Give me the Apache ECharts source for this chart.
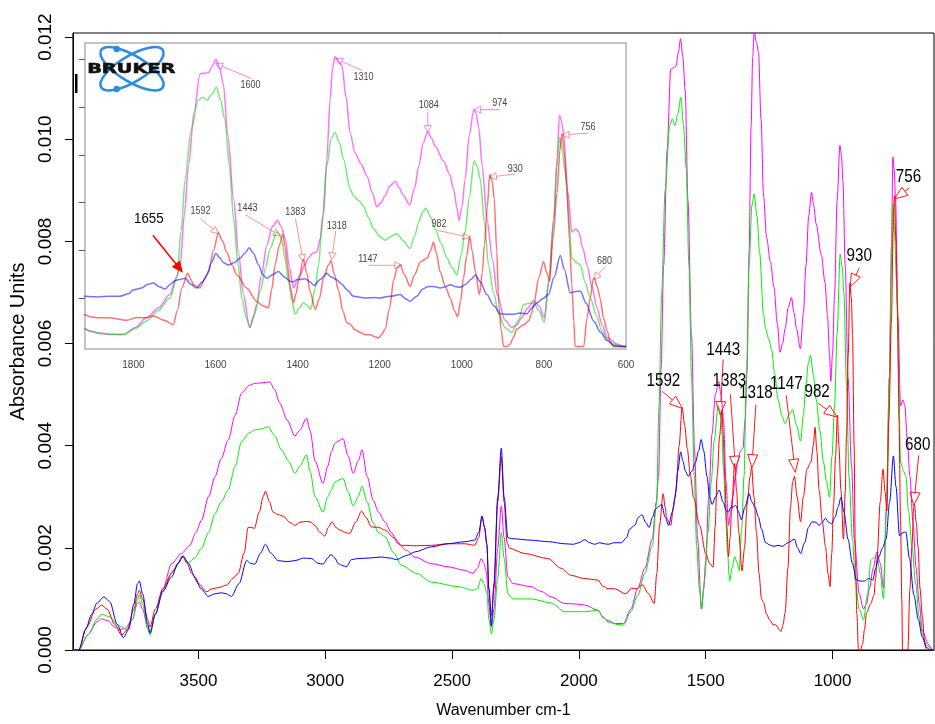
<!DOCTYPE html>
<html>
<head>
<meta charset="utf-8">
<script src="https://cdn.jsdelivr.net/npm/echarts@6/dist/echarts.min.js"></script>
<style>
  html, body { margin: 0; padding: 0; background: #fff; }
  #chart { width: 935px; height: 724px; }
</style>
</head>
<body>
<div id="chart"></div>
<script>
// spectra as [wavenumber cm-1, absorbance]
const magenta = [[3995,0],[3972,0],[3935,0.0003],[3900,0.00055],[3882,0.00061],[3860,0.00058],[3830,0.00045],[3810,0.0004],[3790,0.00042],[3760,0.0006],[3742,0.0009],[3733,0.00094],[3720,0.0008],[3700,0.00045],[3691,0.00035],[3670,0.0007],[3640,0.0012],[3606,0.00169],[3567,0.00189],[3534,0.00205],[3510,0.0023],[3488,0.00254],[3460,0.003],[3435,0.00339],[3410,0.00375],[3383,0.00411],[3355,0.0046],[3330,0.00503],[3300,0.00518],[3278,0.00522],[3250,0.00523],[3219,0.00525],[3200,0.0051],[3179,0.00483],[3150,0.0045],[3120,0.00419],[3100,0.0043],[3074,0.00454],[3060,0.0043],[3040,0.0037],[3009,0.00326],[2990,0.0036],[2976,0.00388],[2962,0.00405],[2945,0.0041],[2930,0.00414],[2910,0.0038],[2890,0.00346],[2870,0.0037],[2855,0.00392],[2835,0.0034],[2811,0.00293],[2790,0.0027],[2765,0.00251],[2740,0.0023],[2713,0.00208],[2680,0.00195],[2647,0.00182],[2582,0.00169],[2516,0.00163],[2450,0.00156],[2417,0.0015],[2400,0.0016],[2385,0.00179],[2375,0.0017],[2365,0.00153],[2355,0.0009],[2345,0.00045],[2335,0.0008],[2320,0.002],[2306,0.00282],[2295,0.0022],[2280,0.00143],[2260,0.0013],[2188,0.00124],[2150,0.00115],[2109,0.00104],[2056,0.00091],[2010,0.0009],[1977,0.00088],[1925,0.00078],[1905,0.00065],[1885,0.00055],[1860,0.00052],[1824,0.00052],[1795,0.0008],[1768,0.00121],[1740,0.0016],[1711,0.00217],[1695,0.0029],[1686,0.0034],[1676,0.0055],[1666,0.00752],[1652,0.0098],[1638,0.01137],[1627,0.0114],[1617,0.01143],[1608,0.0117],[1599,0.01197],[1590,0.0116],[1581,0.01095],[1570,0.0088],[1556,0.00615],[1544,0.0039],[1532,0.00217],[1517,0.0008],[1508,0.0012],[1500,0.00176],[1488,0.003],[1475,0.00423],[1462,0.005],[1449,0.00526],[1440,0.005],[1430,0.0045],[1420,0.0033],[1410,0.00244],[1402,0.0027],[1394,0.00299],[1383,0.0034],[1374,0.00368],[1363,0.0039],[1353,0.00395],[1345,0.0045],[1337,0.00546],[1329,0.0078],[1321,0.01027],[1315,0.0116],[1309,0.0121],[1300,0.0119],[1292,0.01171],[1282,0.0104],[1272,0.00889],[1260,0.00807],[1245,0.0076],[1231,0.00711],[1218,0.0064],[1207,0.00583],[1197,0.006],[1187,0.00629],[1175,0.0067],[1162,0.0069],[1152,0.0066],[1142,0.00629],[1127,0.0059],[1115,0.0066],[1105,0.00752],[1094,0.0085],[1083,0.00896],[1074,0.0087],[1065,0.00835],[1044,0.00773],[1030,0.0072],[1020,0.00656],[1012,0.0058],[1007,0.00526],[1000,0.0058],[992,0.00697],[982,0.0088],[971,0.00988],[965,0.0097],[959,0.00917],[950,0.0075],[939,0.00533],[925,0.0036],[914,0.00217],[895,0.0011],[878,0.0008],[866,0.0009],[854,0.00121],[840,0.0016],[825,0.00192],[812,0.0017],[799,0.00121],[788,0.0027],[776,0.00533],[768,0.0079],[762,0.00965],[757,0.0094],[752,0.00889],[742,0.0065],[732,0.00478],[722,0.0049],[715,0.00478],[705,0.0041],[695,0.0034],[683,0.0025],[671,0.00162],[658,0.0009],[646,0.00038],[622,0.00011],[605,0],[600,0]];

const green = [[3995,0],[3972,0],[3935,0.0003],[3900,0.0006],[3882,0.0007],[3850,0.00065],[3820,0.0005],[3803,0.00045],[3783,0.0004],[3760,0.0006],[3740,0.00098],[3733,0.00109],[3720,0.0009],[3700,0.0004],[3691,0.00029],[3670,0.0007],[3640,0.00115],[3600,0.00156],[3560,0.00182],[3540,0.00171],[3515,0.0018],[3488,0.00199],[3460,0.0023],[3435,0.00267],[3410,0.0029],[3383,0.00313],[3355,0.0036],[3330,0.00408],[3300,0.00425],[3278,0.00431],[3250,0.00433],[3225,0.00437],[3200,0.0042],[3173,0.00392],[3145,0.0037],[3120,0.00346],[3100,0.0036],[3074,0.00382],[3060,0.0035],[3040,0.003],[3009,0.0027],[2990,0.003],[2976,0.00313],[2962,0.00329],[2945,0.00333],[2930,0.00336],[2910,0.0031],[2890,0.00282],[2870,0.003],[2855,0.00321],[2835,0.0029],[2811,0.00248],[2790,0.0023],[2765,0.00222],[2730,0.0019],[2700,0.00166],[2640,0.0015],[2582,0.00133],[2476,0.00124],[2417,0.00117],[2400,0.0012],[2385,0.0014],[2375,0.0013],[2362,0.0011],[2355,0.0006],[2345,0.00032],[2335,0.0006],[2320,0.0014],[2306,0.0023],[2295,0.0018],[2280,0.0011],[2260,0.001],[2188,0.001],[2109,0.00092],[2056,0.00075],[1977,0.00075],[1925,0.00078],[1905,0.00063],[1885,0.00058],[1850,0.0005],[1824,0.00049],[1795,0.00075],[1768,0.00107],[1740,0.0015],[1711,0.00203],[1694,0.00285],[1684,0.0048],[1674,0.00697],[1660,0.009],[1642,0.01027],[1632,0.0104],[1621,0.01027],[1610,0.0105],[1598,0.01082],[1588,0.0103],[1577,0.00944],[1566,0.0075],[1556,0.00533],[1545,0.0034],[1536,0.00203],[1525,0.0012],[1516,0.0008],[1504,0.0014],[1491,0.00231],[1478,0.0033],[1467,0.00409],[1451,0.00478],[1445,0.0047],[1439,0.0045],[1430,0.0036],[1422,0.00272],[1414,0.0019],[1406,0.00135],[1396,0.0016],[1386,0.00183],[1376,0.0017],[1368,0.00155],[1358,0.0024],[1349,0.0034],[1339,0.0055],[1329,0.00752],[1318,0.0087],[1309,0.00893],[1298,0.0085],[1288,0.0078],[1272,0.00656],[1264,0.00629],[1252,0.0061],[1240,0.00587],[1228,0.0054],[1215,0.00491],[1200,0.0046],[1187,0.00443],[1172,0.0046],[1158,0.00471],[1142,0.0044],[1126,0.00409],[1115,0.0046],[1105,0.00519],[1096,0.0056],[1087,0.00577],[1076,0.0054],[1065,0.00491],[1050,0.0043],[1036,0.00368],[1024,0.0033],[1012,0.00299],[1002,0.0038],[992,0.00478],[982,0.0062],[970,0.00775],[962,0.0075],[955,0.00697],[945,0.0052],[935,0.0034],[922,0.0022],[910,0.00135],[895,0.0008],[878,0.00059],[862,0.0011],[849,0.00176],[838,0.0018],[825,0.00183],[812,0.0015],[799,0.001],[788,0.0028],[776,0.00533],[768,0.0075],[762,0.00873],[756,0.0082],[748,0.00725],[740,0.0055],[732,0.00368],[720,0.0035],[711,0.0034],[700,0.0027],[687,0.00203],[672,0.0013],[659,0.00066],[645,0.0003],[634,0.00011],[605,0],[600,0]];

const red = [[3995,0],[3972,0],[3940,0.00045],[3905,0.0008],[3882,0.00088],[3860,0.0008],[3830,0.0005],[3803,0.00029],[3780,0.0004],[3755,0.0008],[3740,0.0011],[3733,0.00117],[3720,0.001],[3700,0.0006],[3691,0.00045],[3670,0.0008],[3640,0.0012],[3606,0.0015],[3580,0.0017],[3564,0.00184],[3545,0.0017],[3527,0.0015],[3500,0.0013],[3468,0.00114],[3445,0.0012],[3422,0.00122],[3389,0.00127],[3365,0.0014],[3343,0.0015],[3320,0.0019],[3304,0.0024],[3290,0.0024],[3280,0.00238],[3260,0.0027],[3245,0.003],[3236,0.00311],[3220,0.0029],[3206,0.0027],[3185,0.00265],[3166,0.00262],[3140,0.0025],[3120,0.00244],[3100,0.0025],[3074,0.00252],[3055,0.0025],[3041,0.00244],[3020,0.0023],[3002,0.00223],[2988,0.0024],[2973,0.00251],[2958,0.0024],[2943,0.00235],[2920,0.0023],[2904,0.00228],[2880,0.0025],[2857,0.00272],[2840,0.0026],[2818,0.00241],[2790,0.0024],[2765,0.00235],[2730,0.0022],[2700,0.00205],[2640,0.00204],[2582,0.00205],[2516,0.00208],[2450,0.00208],[2411,0.00205],[2395,0.0022],[2382,0.00262],[2372,0.0024],[2363,0.00205],[2355,0.0012],[2345,0.00068],[2335,0.0012],[2320,0.0029],[2306,0.00378],[2295,0.0029],[2283,0.0021],[2273,0.00199],[2214,0.00189],[2122,0.00179],[2070,0.0016],[2030,0.00146],[1980,0.0014],[1925,0.00137],[1905,0.00125],[1885,0.0012],[1860,0.0012],[1816,0.0011],[1792,0.00121],[1770,0.0012],[1751,0.00128],[1725,0.0011],[1703,0.00091],[1693,0.0015],[1682,0.00244],[1668,0.00306],[1660,0.0028],[1654,0.00258],[1638,0.00244],[1627,0.0028],[1617,0.00313],[1605,0.004],[1593,0.00475],[1583,0.0044],[1573,0.00395],[1560,0.0034],[1548,0.00299],[1524,0.00244],[1500,0.00189],[1485,0.0017],[1471,0.00162],[1463,0.0024],[1455,0.0034],[1445,0.0042],[1436,0.0047],[1431,0.0042],[1425,0.0034],[1418,0.0025],[1410,0.00183],[1404,0.0022],[1398,0.00272],[1386,0.00365],[1378,0.0031],[1370,0.00231],[1357,0.00155],[1347,0.002],[1337,0.00285],[1325,0.0034],[1319,0.00358],[1310,0.003],[1300,0.00231],[1290,0.0015],[1280,0.001],[1272,0.00093],[1260,0.0007],[1248,0.00059],[1235,0.0005],[1223,0.00049],[1210,0.0004],[1203,0.00036],[1195,0.0005],[1187,0.00073],[1176,0.0016],[1166,0.00279],[1157,0.0033],[1150,0.0034],[1140,0.003],[1126,0.00251],[1115,0.003],[1101,0.00354],[1085,0.00368],[1076,0.004],[1069,0.00436],[1062,0.0039],[1053,0.00313],[1040,0.0025],[1028,0.00203],[1018,0.0015],[1010,0.00124],[1003,0.0019],[996,0.00285],[988,0.0038],[981,0.0046],[975,0.004],[967,0.00313],[957,0.00217],[950,0.0031],[945,0.00423],[938,0.0058],[932,0.00718],[926,0.0069],[921,0.00615],[915,0.004],[910,0.00176],[904,0.0007],[898,0],[890,0],[882,0.00011],[874,0.0004],[866,0.00073],[850,0.0009],[837,0.00107],[830,0.0014],[825,0.00176],[812,0.0029],[801,0.00354],[793,0.0031],[786,0.00272],[778,0.0045],[768,0.00642],[761,0.0082],[756,0.0089],[750,0.008],[744,0.0067],[738,0.0045],[732,0.00258],[727,0.001],[724,0],[703,0],[695,0.0012],[687,0.00203],[680,0.0028],[677,0.00285],[670,0.0025],[663,0.00203],[655,0.0012],[646,0.00066],[638,0.0002],[630,0],[600,0]];

const blue = [[3995,0],[3972,0],[3945,0.0004],[3921,0.0007],[3900,0.00092],[3873,0.00104],[3850,0.00095],[3820,0.0005],[3796,0.00024],[3775,0.0004],[3755,0.0009],[3740,0.0013],[3733,0.00135],[3720,0.0011],[3700,0.0005],[3691,0.00033],[3670,0.0007],[3640,0.00115],[3606,0.00143],[3580,0.0017],[3560,0.00184],[3540,0.0017],[3514,0.00143],[3490,0.0012],[3461,0.00105],[3435,0.0011],[3409,0.00112],[3390,0.0011],[3370,0.00105],[3340,0.0013],[3310,0.00175],[3295,0.0017],[3278,0.00168],[3255,0.0019],[3236,0.00207],[3215,0.0019],[3186,0.00175],[3150,0.00173],[3120,0.00175],[3085,0.0018],[3054,0.00179],[3030,0.0017],[3009,0.00168],[2990,0.0018],[2978,0.00187],[2962,0.0018],[2949,0.00169],[2930,0.00165],[2916,0.00163],[2897,0.00177],[2870,0.00179],[2830,0.0018],[2778,0.00182],[2745,0.0018],[2719,0.00177],[2680,0.00185],[2647,0.00192],[2582,0.00202],[2516,0.00208],[2450,0.00212],[2411,0.00215],[2395,0.0023],[2382,0.00262],[2372,0.0024],[2363,0.00208],[2355,0.0012],[2345,0.00048],[2335,0.0013],[2320,0.003],[2306,0.00395],[2295,0.003],[2280,0.0022],[2266,0.00218],[2188,0.00215],[2120,0.00212],[2056,0.00208],[2023,0.00207],[2000,0.0021],[1977,0.00216],[1958,0.0021],[1938,0.00207],[1918,0.0021],[1900,0.00208],[1885,0.00207],[1860,0.0021],[1833,0.0021],[1812,0.0022],[1800,0.00237],[1780,0.00244],[1765,0.0026],[1751,0.00265],[1737,0.0025],[1723,0.0024],[1710,0.0026],[1699,0.00275],[1688,0.0028],[1674,0.00285],[1660,0.0026],[1646,0.00244],[1632,0.0027],[1621,0.00299],[1610,0.0035],[1599,0.00388],[1590,0.0037],[1580,0.0035],[1569,0.0034],[1555,0.0035],[1540,0.00368],[1528,0.0039],[1518,0.00412],[1508,0.0039],[1495,0.0034],[1485,0.003],[1475,0.00285],[1461,0.003],[1447,0.00313],[1432,0.0029],[1418,0.00272],[1410,0.0027],[1402,0.00279],[1392,0.0028],[1382,0.00283],[1370,0.0027],[1360,0.00255],[1345,0.0028],[1329,0.00306],[1318,0.0029],[1305,0.00279],[1292,0.0026],[1280,0.00237],[1264,0.0021],[1245,0.00205],[1231,0.00203],[1215,0.00205],[1199,0.00203],[1175,0.0021],[1150,0.00217],[1138,0.002],[1126,0.00189],[1110,0.0021],[1095,0.0024],[1081,0.00251],[1065,0.0025],[1053,0.00244],[1040,0.0025],[1028,0.00258],[1015,0.0025],[1004,0.00247],[990,0.0026],[978,0.0028],[967,0.00299],[955,0.0027],[939,0.00217],[922,0.0017],[906,0.00137],[890,0.00135],[874,0.00135],[858,0.0014],[841,0.00137],[830,0.0016],[817,0.00183],[803,0.002],[789,0.00217],[775,0.0029],[760,0.0038],[750,0.0032],[736,0.00224],[722,0.0023],[711,0.00231],[697,0.0018],[679,0.00107],[662,0.0006],[646,0.00025],[630,0.00005],[614,0],[600,0]];

// axis ticks
const mainTicksX = [3500, 3000, 2500, 2000, 1500, 1000];
const mainTicksY = [0, 0.002, 0.004, 0.006, 0.008, 0.010, 0.012];
const insetTicksX = [1800, 1600, 1400, 1200, 1000, 800, 600];
const insetTicksY = [0.002, 0.004, 0.006, 0.008, 0.010, 0.012];

// peak callouts: label and arrow tip [wavenumber, absorbance]
const mainPeakLabels = ['1592', '1443', '1383', '1318', '1147', '982', '930', '756', '680'];
const mainPeakTips = [[1592,0.00473],[1443,0.00461],[1383,0.00354],[1318,0.00357],[1147,0.00348],[982,0.00456],[930,0.00711],[756,0.00883],[680,0.00283]];
const insetPeakLabels = ['1655', '1600', '1592', '1443', '1383', '1318', '1310', '1147', '1084', '982', '974', '930', '756', '680'];
const insetPeakTips = [[1682,0.00314],[1600,0.0118],[1593,0.00471],[1442,0.00462],[1386,0.00355],[1317,0.00362],[1308,0.01201],[1146,0.00339],[1083,0.00892],[980,0.00455],[971,0.00988],[933,0.00707],[756,0.00882],[679,0.0028]];

// callout layout in px relative to tip: [tailDx, tailDy, textDx, textDy]
const mainLayout = [[-20,-17,-19,-28],[3,-55,3,-65],[-5,-75,-6,-88],[4,-63,4,-75],[-9,-77,-9,-88],[-19,-14,-20,-25],[9,-19,9,-31],[15,-11,14,-22],[5,-50,4,-61]];
const insetLayout = [[-29,-36,-33,-52],[36,15,35,22],[-18,-15,-18,-22],[-35,-21,-33,-28],[-8,-43,-8,-49],[4,-29,5,-34],[27,12,28,19],[-33,0,-34,-6],[0,-21,1,-27],[-32,-7,-31,-13],[26,0,26,-6],[26,-3,26,-8],[26,-2,26,-8],[12,-13,11,-18]];
const insetKinds = ['black','magenta','salmon','salmon','salmon','salmon','magenta','salmon','magenta','salmon','magenta','salmon','salmon','salmon'];

const FONT = "'Liberation Sans', Arial, sans-serif";

const calloutStyles = {
  main: { line: '#ff1a1a', text: '#000', font: '19px ' + FONT, sx: 0.8, width: 1, head: 13, half: 5, filled: false },
  black: { line: '#ff0000', text: '#000', font: '14.5px ' + FONT, sx: 0.92, width: 1.5, head: 9, half: 4, filled: true },
  magenta: { line: 'rgba(255,0,255,0.5)', text: '#444', font: '10px ' + FONT, sx: 0.9, width: 1, head: 7, half: 3.5, filled: false },
  salmon: { line: 'rgba(255,40,40,0.5)', text: '#444', font: '10px ' + FONT, sx: 0.9, width: 1, head: 7, half: 3.5, filled: false }
};

function callout(tip, o, label, s) {
  const tail = [tip[0] + o[0], tip[1] + o[1]];
  const dx = tip[0] - tail[0], dy = tip[1] - tail[1];
  const len = Math.hypot(dx, dy) || 1;
  const ux = dx / len, uy = dy / len;
  const bx = tip[0] - ux * s.head, by = tip[1] - uy * s.head;
  const nx = -uy * s.half, ny = ux * s.half;
  return {
    type: 'group',
    children: [
      { type: 'line', shape: { x1: tail[0], y1: tail[1], x2: bx, y2: by }, style: { stroke: s.line, lineWidth: s.width } },
      { type: 'polygon', shape: { points: [[tip[0], tip[1]], [bx + nx, by + ny], [bx - nx, by - ny]] },
        style: { fill: s.filled ? s.line : 'rgba(255,255,255,0)', stroke: s.line, lineWidth: s.width } },
      { type: 'text', x: tip[0] + o[2], y: tip[1] + o[3], scaleX: s.sx,
        style: { text: label, fill: s.text, font: s.font, align: 'center', verticalAlign: 'middle' } }
    ]
  };
}

function spectrum(data, color, axis) {
  const inset = axis === 1;
  return {
    type: 'line',
    data: data,
    xAxisIndex: axis,
    yAxisIndex: axis,
    symbol: 'none',
    smooth: 0.3,
    smoothMonotone: 'x',
    silent: true,
    clip: true,
    lineStyle: { color: color, width: inset ? 1.5 : 1, opacity: inset ? 0.55 : 1 },
    z: 2
  };
}

const chart = echarts.init(document.getElementById('chart'));

chart.setOption({
  animation: false,
  backgroundColor: '#fff',
  grid: [
    { left: 72, right: 1, top: 33, bottom: 71, show: true, borderColor: '#000', borderWidth: 1 },
    { left: 85, top: 43, width: 541, height: 306, show: true, backgroundColor: '#fff', borderColor: '#c4c4c4', borderWidth: 2 }
  ],
  xAxis: [
    {
      type: 'value', gridIndex: 0, inverse: true, min: 600, max: 3995,
      name: 'Wavenumber cm-1', nameLocation: 'middle', nameGap: 53,
      nameTextStyle: { fontFamily: FONT, fontSize: 16, color: '#000' },
      axisLine: { show: true, lineStyle: { color: '#000', width: 1 } },
      axisTick: { show: true, customValues: mainTicksX, length: 9, lineStyle: { color: '#000' } },
      axisLabel: { customValues: mainTicksX, margin: 23, fontFamily: FONT, fontSize: 17, color: '#000',
        formatter: v => String(v) },
      splitLine: { show: false }
    },
    {
      type: 'value', gridIndex: 1, inverse: true, min: 600, max: 1918,
      axisLine: { show: false },
      axisTick: { show: false },
      axisLabel: { customValues: insetTicksX, margin: 11, fontFamily: FONT, fontSize: 10, color: '#444',
        formatter: v => String(v) },
      splitLine: { show: false }
    }
  ],
  yAxis: [
    {
      type: 'value', gridIndex: 0, min: 0, max: 0.01208,
      name: 'Absorbance Units', nameLocation: 'middle', nameGap: 43, nameRotate: 90,
      nameTextStyle: { fontFamily: FONT, fontSize: 20, color: '#000' },
      axisLine: { show: true, lineStyle: { color: '#000', width: 1 } },
      axisTick: { show: true, customValues: mainTicksY, length: 8, lineStyle: { color: '#000' } },
      axisLabel: { customValues: mainTicksY, rotate: 90, margin: 18, fontFamily: FONT, fontSize: 19, color: '#000',
        formatter: v => v.toFixed(3) },
      splitLine: { show: false }
    },
    {
      type: 'value', gridIndex: 1, min: -0.0001, max: 0.01266,
      axisLine: { show: false },
      axisTick: { show: true, customValues: insetTicksY, length: 6, lineStyle: { color: '#555' } },
      axisLabel: { show: false },
      splitLine: { show: false }
    }
  ],
  series: [
    spectrum(magenta, '#ff00ff', 0),
    spectrum(green, '#00ee00', 0),
    spectrum(red, '#ff0000', 0),
    spectrum(blue, '#0000ff', 0),
    spectrum(magenta, '#ff00ff', 1),
    spectrum(green, '#00dd00', 1),
    spectrum(red, '#ff0000', 1),
    spectrum(blue, '#0000ff', 1),
    {
      type: 'custom', xAxisIndex: 0, yAxisIndex: 0, silent: true, z: 10,
      data: mainPeakTips,
      renderItem: (params, api) => callout(api.coord([api.value(0), api.value(1)]),
        mainLayout[params.dataIndex], mainPeakLabels[params.dataIndex], calloutStyles.main)
    },
    {
      type: 'custom', xAxisIndex: 1, yAxisIndex: 1, silent: true, z: 10,
      data: insetPeakTips,
      renderItem: (params, api) => callout(api.coord([api.value(0), api.value(1)]),
        insetLayout[params.dataIndex], insetPeakLabels[params.dataIndex], calloutStyles[insetKinds[params.dataIndex]])
    }
  ],
  graphic: [
    { type: 'rect', z: 100, shape: { x: 75, y: 74, width: 2.5, height: 19 }, style: { fill: '#000' } },
    { type: 'ellipse', z: 100, x: 132, y: 68.7, rotation: 31 * Math.PI / 180,
      shape: { cx: 0, cy: 0, rx: 36, ry: 13 }, style: { fill: 'none', stroke: '#2b8ce6', lineWidth: 2.5 } },
    { type: 'ellipse', z: 100, x: 132, y: 68.7, rotation: -31 * Math.PI / 180,
      shape: { cx: 0, cy: 0, rx: 36, ry: 13 }, style: { fill: 'none', stroke: '#2b8ce6', lineWidth: 2.5 } },
    { type: 'circle', z: 101, shape: { cx: 116.7, cy: 49, r: 3.2 }, style: { fill: '#2b8ce6' } },
    { type: 'circle', z: 101, shape: { cx: 116.7, cy: 89, r: 3.2 }, style: { fill: '#2b8ce6' } },
    { type: 'text', z: 102, x: 131.3, y: 69.5, scaleX: 1.38,
      style: { text: 'BRUKER', font: 'bold 14px "DejaVu Sans", sans-serif', fill: '#111', stroke: '#111', lineWidth: 0.6,
        align: 'center', verticalAlign: 'middle' } }
  ]
});
</script>
</body>
</html>
